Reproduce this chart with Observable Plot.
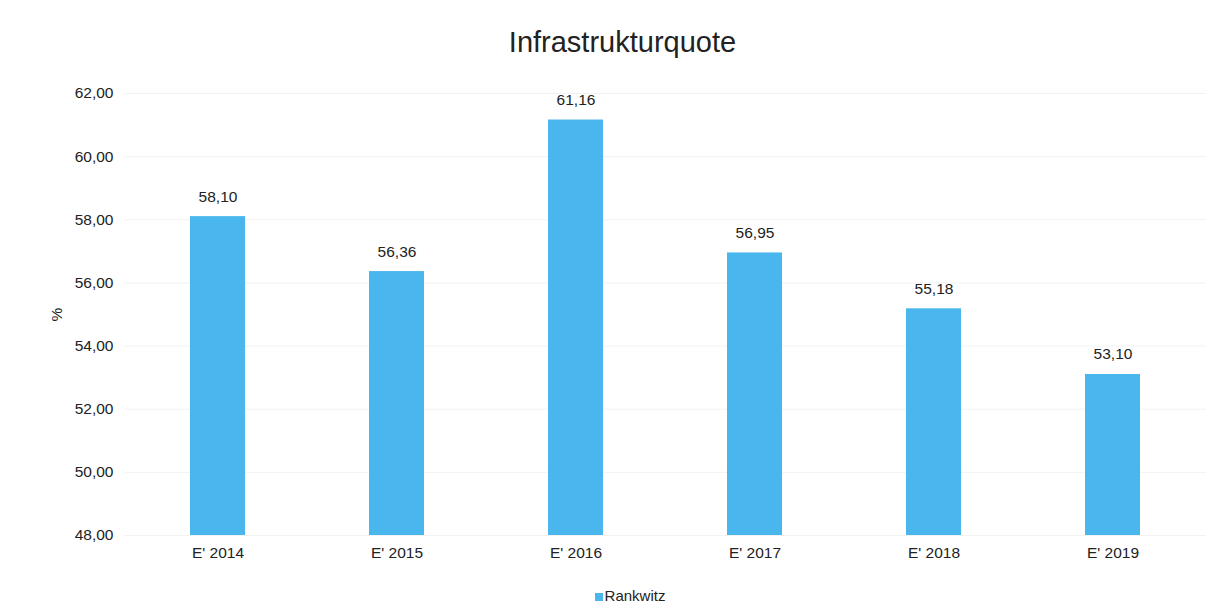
<!DOCTYPE html>
<html>
<head>
<meta charset="utf-8">
<script src="https://cdn.jsdelivr.net/npm/d3@7"></script>
<script src="https://cdn.jsdelivr.net/npm/@observablehq/plot@0.6"></script>
<style>
  body { margin: 0; background: #fff; font-family: "Liberation Sans", Arial, sans-serif; color: #222; }
  #title { height: 70px; box-sizing: border-box; padding-top: 28px; text-align: center; font-size: 29px; line-height: 28px; padding-left: 20px; }
  #legend { text-align: center; font-size: 15px; margin-top: 12px; padding-left: 35px; }
  #legend span.sw { display: inline-block; width: 8px; height: 8px; background: #4ab6ee; margin-right: 2px; }
</style>
</head>
<body>
<div id="title">Infrastrukturquote</div>
<div id="chart"></div>
<div id="legend"><span class="sw"></span>Rankwitz</div>
<script>
const categories = ["E' 2014", "E' 2015", "E' 2016", "E' 2017", "E' 2018", "E' 2019"];
const values = [58.10, 56.36, 61.16, 56.95, 55.18, 53.10];
const yTicks = [48, 50, 52, 54, 56, 58, 60, 62];
const seriesName = "Rankwitz";

const data = categories.map((c, i) => ({cat: c, v: values[i]}));
const fmt = d => d.toFixed(2).replace(".", ",");

const chart = Plot.plot({
  width: 1225,
  height: 505,
  marginLeft: 125,
  marginRight: 19,
  marginTop: 23,
  marginBottom: 40,
  style: {fontFamily: "Liberation Sans, Arial, sans-serif", fontSize: "15.5px", color: "#222"},
  x: {domain: categories, paddingInner: 0.69, paddingOuter: 0.35, label: null, tickSize: 0, tickPadding: 11},
  y: {domain: [48, 62], ticks: yTicks, tickFormat: fmt, tickSize: 0, tickPadding: 12,
      label: "%", labelAnchor: "center", labelArrow: "none", labelOffset: 75},
  marks: [
    Plot.ruleY(yTicks, {stroke: "#f2f2f2", strokeWidth: 1}),
    Plot.barY(data, {x: "cat", y1: 48, y2: "v", fill: "#4ab6ee"}),
    Plot.text(data, {x: "cat", y: "v", text: d => fmt(d.v), dy: -20, fontSize: 15.5, fill: "#222"})
  ]
});
document.getElementById("chart").appendChild(chart);
</script>
</body>
</html>
